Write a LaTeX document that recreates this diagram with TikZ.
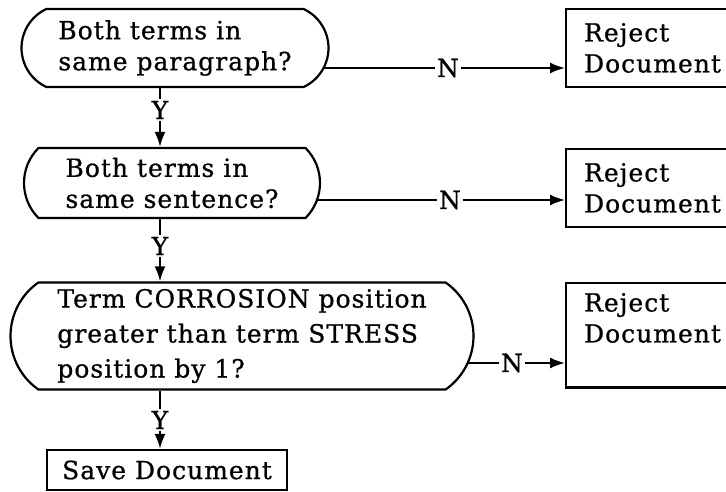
\documentclass[tikz,border=0pt]{standalone}
\usepackage{fontspec}
\setmainfont[LetterSpace=4,FakeBold=0.8]{DejaVu Serif}
\usetikzlibrary{shapes.misc,arrows.meta,backgrounds}
\newcommand{\flowfont}{\fontsize{25}{31}\selectfont}
\tikzset{
  test/.style={rounded rectangle, draw, line width=2.2pt, fill=white,
               align=left, font=\flowfont, inner xsep=0pt, inner ysep=0pt},
  reject/.style={draw, line width=2.2pt, anchor=north west, align=left,
                 font=\flowfont, inner xsep=18pt, inner ysep=14pt,
                 text width=160pt},
  savebox/.style={draw, line width=2.2pt, font=\flowfont,
                  minimum width=240pt, minimum height=40pt},
  lbl/.style={font=\flowfont, inner sep=1.5pt},
  flow/.style={line width=2pt},
  flowarrow/.style={flow, -{Latex[length=15pt,width=11pt]}},
}

\begin{document}
\begin{tikzpicture}[x=1pt, y=-1pt]
  \useasboundingbox (0,0) rectangle (726,492);
  \clip (0,0) rectangle (726,492);

  % tests
  \node[test, rounded rectangle arc length=130, minimum width=307pt, minimum height=78pt]
    (q1) at (175,48) {Both terms in\\same paragraph?};
  \node[test, rounded rectangle arc length=90, minimum width=296pt, minimum height=70pt]
    (q2) at (172,183) {Both terms in\\same sentence?};
  \node[test, rounded rectangle arc length=110, minimum width=463pt, minimum height=107pt,
        font=\fontsize{25}{35}\selectfont]
    (q3) at (242,336) {Term CORROSION position\\greater than term STRESS\\position by 1?};

  % outcomes
  \node[reject] (r1) at (565,8) {Reject\\Document};
  \node[reject] (r2) at (565,148) {Reject\\Document};
  \node[reject, inner ysep=10pt, text depth=66pt] (r3) at (565,282) {Reject\\Document};
  \node[savebox] (s1) at (167,470) {Save Document};

  % branch labels
  \node[lbl] (n1) at (448,68) {N};
  \node[lbl] (n2) at (450,200) {N};
  \node[lbl] (n3) at (512,363) {N};
  \node[lbl] (y1) at (160,110) {Y};
  \node[lbl] (y2) at (160,246) {Y};
  \node[lbl] (y3) at (160,420) {Y};

  \begin{pgfonlayer}{background}
    \draw[flow] (q1.center |- n1) -- (n1);
    \draw[flow] (q2.center |- n2) -- (n2);
    \draw[flow] (q3.center |- n3) -- (n3);
  \end{pgfonlayer}
  \draw[flowarrow] (n1) -- (n1 -| r1.west);
  \draw[flowarrow] (n2) -- (n2 -| r2.west);
  \draw[flowarrow] (n3) -- (n3 -| r3.west);

  \draw[flow] (y1 |- q1.south) -- (y1);
  \draw[flowarrow] (y1) -- (y1 |- q2.north);
  \draw[flow] (y2 |- q2.south) -- (y2);
  \draw[flowarrow] (y2) -- (y2 |- q3.north);
  \draw[flow] (y3 |- q3.south) -- (y3);
  \draw[flowarrow] (y3) -- (y3 |- s1.north);
\end{tikzpicture}
\end{document}
